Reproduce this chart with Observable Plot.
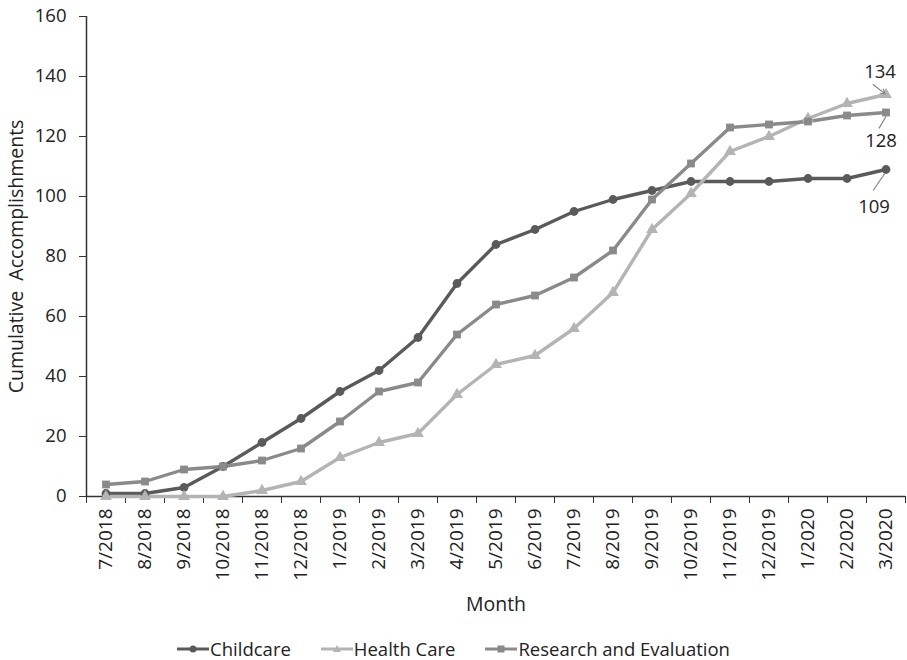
<!DOCTYPE html>
<html><head><meta charset="utf-8">
<script src="https://cdn.jsdelivr.net/npm/d3@7"></script>
<script src="https://cdn.jsdelivr.net/npm/@observablehq/plot@0.6"></script>
<style>
body{margin:0;background:#fff;font-family:"Open Sans","Noto Sans",sans-serif;}
#legend{display:flex;justify-content:center;gap:30px;font-size:18.5px;color:#222;margin-top:13px;padding-left:0px;line-height:22px}
#legend span{display:flex;align-items:center;gap:1px}
</style></head><body>
<div id="chart"></div>
<div id="legend"></div>
<script>
const months = ["7/2018","8/2018","9/2018","10/2018","11/2018","12/2018","1/2019","2/2019","3/2019","4/2019","5/2019","6/2019","7/2019","8/2019","9/2019","10/2019","11/2019","12/2019","1/2020","2/2020","3/2020"];
const childcare = [1,1,3,10,18,26,35,42,53,71,84,89,95,99,102,105,105,105,106,106,109];
const healthCare = [0,0,0,0,2,5,13,18,21,34,44,47,56,68,89,101,115,120,126,131,134];
const research = [4,5,9,10,12,16,25,35,38,54,64,67,73,82,99,111,123,124,125,127,128];
const seriesNames = ["Childcare","Health Care","Research and Evaluation"];
const yTicks = [0,20,40,60,80,100,120,140,160];

const colors = {"Childcare":"#5a5a5a","Health Care":"#b4b4b4","Research and Evaluation":"#8a8a8a"};
const symbols = {"Childcare":"circle","Health Care":"triangle","Research and Evaluation":"square"};
const vals = [childcare, healthCare, research];
const data = [];
seriesNames.forEach((s,k)=>vals[k].forEach((v,i)=>data.push({series:s,i,month:months[i],value:v})));
const last = data.filter(d=>d.i===months.length-1);
const lastOf = s => last.filter(d => d.series === s);

const font = "Open Sans, Noto Sans, sans-serif";

const chart = Plot.plot({
  width: 907, height: 625,
  marginTop: 16, marginLeft: 86, marginRight: 2, marginBottom: 129,
  style: {fontFamily: font, fontSize: "18px", color: "#222", background: "#fff", overflow: "visible"},
  x: {domain: [-0.5, months.length - 0.5]},
  y: {domain: [0, 160]},
  marks: [
    Plot.axisY({ticks: yTicks, tickSize: 7, tickPadding: 13, fontSize: 18.5, label: null, stroke: "#333"}),
    Plot.text(["Cumulative  Accomplishments"], {frameAnchor: "left", textAnchor: "middle", rotate: -90, dx: -70, fontSize: 19.5, fill: "#222"}),
    Plot.axisX({ticks: d3.range(months.length + 1).map(i => i - 0.5), tickFormat: () => "", tickSize: 7, label: null, stroke: "#333"}),
    Plot.axisX({ticks: d3.range(months.length), tickFormat: i => months[i], tickSize: 0, tickPadding: 12, tickRotate: -90, fontSize: 19, label: null}),
    Plot.text(["Month"], {frameAnchor: "bottom", dy: 114, fontSize: 19.5, fill: "#222"}),
    Plot.ruleX([-0.5], {stroke: "#333", strokeWidth: 1.5}),
    Plot.ruleY([0], {stroke: "#333", strokeWidth: 1.5}),
    Plot.line(data, {x: "i", y: "value", z: "series", stroke: d => colors[d.series], strokeWidth: 3.4}),
    Plot.dot(data, {x: "i", y: "value", symbol: d => symbols[d.series], fill: d => colors[d.series], r: 4.4}),
    Plot.arrow(lastOf("Health Care"), {x1: d => d.i - 0.33, y1: d => d.value + 3.3, x2: d => d.i - 0.02, y2: d => d.value + 0.2, stroke: "#8a8a8a", strokeWidth: 1.2, headLength: 9}),
    Plot.link(lastOf("Research and Evaluation"), {x1: d => d.i - 0.18, y1: d => d.value - 5.3, x2: d => d.i, y2: d => d.value - 1.3, stroke: "#8a8a8a", strokeWidth: 1.2}),
    Plot.link(lastOf("Childcare"), {x1: d => d.i - 0.33, y1: d => d.value - 7, x2: d => d.i - 0.03, y2: d => d.value - 1.3, stroke: "#8a8a8a", strokeWidth: 1.2}),
    Plot.text(lastOf("Health Care"), {x: "i", y: "value", text: d => String(d.value), dx: -6, dy: -22, fontSize: 18.5, fill: "#222"}),
    Plot.text(lastOf("Research and Evaluation"), {x: "i", y: "value", text: d => String(d.value), dx: -5, dy: 29, fontSize: 18.5, fill: "#222"}),
    Plot.text(lastOf("Childcare"), {x: "i", y: "value", text: d => String(d.value), dx: -12, dy: 38, fontSize: 18.5, fill: "#222"})
  ]
});
document.getElementById("chart").append(chart);

const legend = document.getElementById("legend");
const shapes = {
  "Childcare": c => `<circle cx="16" cy="8" r="3.5" fill="${c}"/>`,
  "Health Care": c => `<path d="M16,4 L20,11 L12,11 Z" fill="${c}"/>`,
  "Research and Evaluation": c => `<rect x="12.5" y="4.5" width="7" height="7" fill="${c}"/>`
};
seriesNames.forEach(s => {
  const span = document.createElement("span");
  span.innerHTML = `<svg width="32" height="16"><line x1="0" x2="32" y1="8" y2="8" stroke="${colors[s]}" stroke-width="3"/>${shapes[s](colors[s])}</svg>${s}`;
  legend.append(span);
});
</script>
</body></html>
